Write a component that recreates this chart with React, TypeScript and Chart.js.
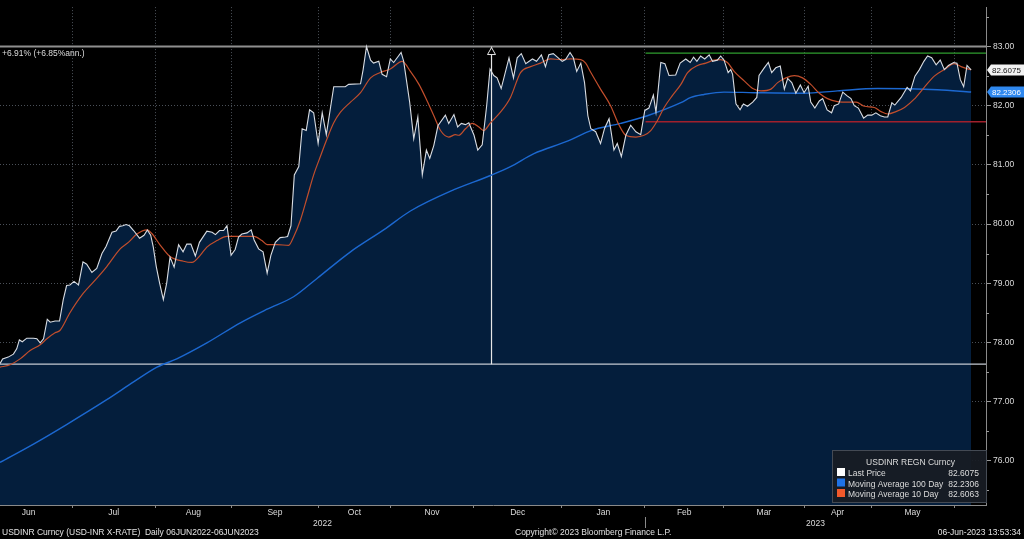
import { useEffect, useRef } from "react"
import { Chart, registerables } from "chart.js"

Chart.register(...registerables)

// x = trading day, 0 = 06 Jun 2022
const priceDays = [
  0, 0.7, 2.2, 3.6, 4.5, 5.2, 6.0, 7.2, 9.0, 9.9,
  10.8, 11.7, 12.7, 13.5, 14.8, 16.0, 17.0, 17.9, 18.8, 19.9,
  21.1, 22.3, 23.3, 24.7, 26.0, 27.4, 28.5, 30.1, 31.2, 32.1,
  33.0, 33.9, 34.8, 35.9, 37.5, 38.7, 39.6, 40.5, 41.2, 42.0,
  42.9, 43.9, 44.8, 45.7, 46.8, 48.0, 49.2, 50.2, 51.3, 52.5,
  53.6, 55.6, 57.0, 57.9, 59.0, 60.1, 61.0, 62.1, 63.2, 64.1,
  65.0, 66.4, 67.5, 68.3, 69.5, 70.7, 71.8, 72.8, 74.0, 75.3,
  76.7, 77.3, 78.2, 79.1, 80.3, 81.2, 82.3, 83.2, 84.3, 85.5,
  86.6, 87.7, 89.7, 91.5, 92.8, 93.7, 96.9, 97.6, 98.5, 99.6,
  100.4, 101.8, 102.7, 103.9, 104.9, 105.8, 107.8, 108.5, 110.1, 111.2,
  112.3, 113.5, 114.6, 115.5, 116.6, 117.7, 119.7, 120.6, 122.0, 123.0,
  124.0, 125.1, 126.0, 127.4, 128.4, 129.6, 130.8, 131.7, 132.7, 133.6,
  134.7, 136.8, 138.0, 139.0, 140.1, 141.3, 143.1, 144.2, 145.5, 146.6,
  147.5, 148.7, 149.8, 151.1, 152.0, 153.2, 154.1, 155.0, 156.1, 157.1,
  158.0, 158.8, 160.1, 161.4, 162.5, 163.7, 165.0, 165.9, 167.0, 168.2,
  169.5, 170.9, 172.2, 173.3, 174.4, 175.6, 176.3, 177.6, 178.7, 179.8,
  181.6, 182.8, 184.3, 185.5, 186.4, 187.3, 188.3, 189.4, 190.6, 191.5,
  192.8, 193.7, 194.6, 195.7, 196.4, 196.9, 197.8, 198.9, 199.8, 200.9,
  202.3, 203.4, 204.0, 205.4, 206.5, 207.4, 208.5, 209.7, 210.8, 211.7,
  212.8, 213.9, 215.1, 216.1, 217.2, 217.9, 219.0, 220.2, 221.1, 222.3,
  223.5, 224.2, 225.4, 226.5, 227.6, 228.7, 229.6, 230.7, 232.1, 233.2,
  234.3, 235.4, 236.6, 237.7, 238.6, 239.7, 240.5, 242.2, 243.8, 244.7,
  245.9, 247.1, 248.3, 249.3, 250.4, 251.6, 252.7, 253.8, 254.9, 256.3,
  257.2, 258.1, 259.0, 259.9, 261.0,
]
const priceValues = [
  77.64, 77.72, 77.75, 77.80, 77.89, 78.04, 78.01, 78.07, 78.07, 78.06,
  77.99, 78.06, 78.39, 78.34, 78.36, 78.36, 78.72, 78.96, 78.97, 79.03,
  78.97, 79.36, 79.32, 79.18, 79.25, 79.50, 79.62, 79.86, 79.88, 79.96,
  79.97, 79.99, 79.97, 79.89, 79.76, 79.81, 79.90, 79.81, 79.61, 79.28,
  79.00, 78.72, 79.00, 79.44, 79.27, 79.65, 79.53, 79.66, 79.66, 79.46,
  79.69, 79.88, 79.86, 79.82, 79.89, 79.89, 79.97, 79.47, 79.57, 79.78,
  79.83, 79.85, 79.90, 79.73, 79.58, 79.53, 79.17, 79.47, 79.69, 79.77,
  79.78, 79.79, 79.97, 80.83, 80.97, 81.61, 81.58, 81.93, 81.88, 81.36,
  81.88, 81.51, 82.32, 82.32, 82.32, 82.36, 82.37, 82.61, 83.00, 82.77,
  82.72, 82.75, 82.53, 82.49, 82.79, 82.73, 82.90, 82.75, 82.06, 81.44,
  81.81, 80.83, 81.25, 81.11, 81.33, 81.66, 81.84, 81.70, 81.85, 81.64,
  81.70, 81.68, 81.71, 81.50, 81.25, 81.34, 82.00, 82.62, 82.51, 82.47,
  82.29, 82.81, 82.47, 82.81, 82.88, 82.71, 82.79, 82.75, 82.86, 82.66,
  82.86, 82.88, 82.82, 82.75, 82.78, 82.90, 82.81, 82.58, 82.72, 82.39,
  81.83, 81.61, 81.56, 81.36, 81.62, 81.78, 81.25, 81.36, 81.14, 81.50,
  81.67, 81.56, 81.51, 81.92, 81.96, 82.18, 81.89, 82.73, 82.71, 82.51,
  82.52, 82.72, 82.79, 82.73, 82.82, 82.75, 82.84, 82.79, 82.86, 82.75,
  82.77, 82.84, 82.77, 82.56, 82.61, 82.53, 82.03, 81.93, 82.03, 81.99,
  82.06, 82.14, 82.51, 82.64, 82.73, 82.56, 82.64, 82.67, 82.28, 82.46,
  82.39, 82.21, 82.35, 82.22, 82.33, 82.06, 81.96, 82.08, 82.12, 81.93,
  81.88, 82.00, 82.03, 82.23, 82.17, 82.12, 82.00, 81.96, 81.79, 81.84,
  81.84, 81.88, 81.83, 81.81, 81.81, 82.05, 82.01, 82.14, 82.31, 82.25,
  82.50, 82.61, 82.75, 82.84, 82.81, 82.69, 82.77, 82.61, 82.68, 82.73,
  82.72, 82.44, 82.32, 82.68, 82.6075,
]

const ma10Days = [
  0, 2.7, 5.4, 8.1, 10.8, 12.6, 14.8, 16.1, 18.8, 22.4,
  26.0, 28.7, 32.3, 34.5, 36.8, 39.5, 40.8, 43.1, 45.7, 49.3,
  51.6, 53.8, 55.6, 58.3, 61.0, 64.6, 68.2, 70.4, 71.8, 74.5,
  77.6, 78.9, 80.7, 82.5, 84.3, 86.1, 87.9, 89.7, 91.5, 94.2,
  96.9, 99.6, 102.2, 104.9, 108.1, 110.3, 112.6, 114.8, 116.6, 118.4,
  120.6, 122.4, 123.3, 125.1, 126.9, 128.7, 130.0, 131.8, 134.5, 137.2,
  139.9, 142.6, 145.3, 148.0, 150.7, 153.4, 156.1, 157.4, 158.8, 161.4,
  164.1, 166.4, 168.2, 170.9, 173.1, 174.9, 176.7, 178.5, 180.7, 183.0,
  184.8, 187.5, 189.7, 191.9, 193.7, 195.5, 197.3, 200.0, 202.3, 204.5,
  207.2, 209.0, 211.2, 213.5, 215.7, 217.9, 220.2, 222.4, 225.1, 227.8,
  230.1, 232.3, 235.0, 236.8, 238.6, 240.8, 243.1, 245.7, 248.4, 251.1,
  253.8, 256.5, 258.3, 261.0,
]
const ma10Values = [
  77.58, 77.62, 77.72, 77.86, 77.96, 78.06, 78.16, 78.20, 78.50, 78.83,
  79.08, 79.28, 79.58, 79.69, 79.83, 79.90, 79.84, 79.64, 79.45, 79.37,
  79.35, 79.47, 79.61, 79.72, 79.79, 79.79, 79.79, 79.72, 79.65, 79.65,
  79.64, 79.78, 80.06, 80.44, 80.83, 81.14, 81.44, 81.71, 81.89, 82.06,
  82.22, 82.47, 82.56, 82.62, 82.75, 82.58, 82.36, 82.08, 81.83, 81.58,
  81.47, 81.51, 81.50, 81.61, 81.70, 81.64, 81.58, 81.71, 81.89, 82.14,
  82.56, 82.66, 82.72, 82.79, 82.78, 82.79, 82.78, 82.72, 82.56, 82.28,
  82.00, 81.67, 81.50, 81.47, 81.50, 81.58, 81.75, 81.97, 82.17, 82.36,
  82.56, 82.68, 82.72, 82.77, 82.78, 82.73, 82.58, 82.42, 82.29, 82.25,
  82.28, 82.39, 82.47, 82.51, 82.47, 82.36, 82.21, 82.12, 82.07, 82.06,
  82.06, 81.99, 81.97, 81.90, 81.86, 81.90, 81.97, 82.11, 82.31, 82.50,
  82.61, 82.71, 82.66, 82.6063,
]

const ma100Days = [
  0, 9.0, 17.9, 28.7, 35.9, 42.2, 47.5, 55.6, 64.6, 71.8,
  78.9, 85.2, 94.2, 103.1, 110.3, 122.0, 131.8, 137.2, 143.5, 152.5,
  158.8, 166.8, 174.0, 183.0, 185.7, 189.2, 194.6, 202.7, 216.1, 225.1,
  235.9, 252.0, 261.0,
]
const ma100Values = [
  75.97, 76.28, 76.61, 77.03, 77.33, 77.58, 77.72, 77.99, 78.33, 78.56,
  78.77, 79.08, 79.53, 79.90, 80.22, 80.58, 80.82, 80.97, 81.19, 81.40,
  81.58, 81.70, 81.83, 82.05, 82.14, 82.19, 82.23, 82.22, 82.21, 82.25,
  82.29, 82.27, 82.2306,
]

// axis
const dayMin = 0
const dayMax = 265
const firstMonthStart = -4
const monthStarts = [19.4, 41.7, 62.2, 85.6, 104.9, 127.3, 151.0, 173.3, 194.5, 216.1, 234.1, 256.4]
const monthLabels = ["Jun", "Jul", "Aug", "Sep", "Oct", "Nov", "Dec", "Jan", "Feb", "Mar", "Apr", "May"]
const yearLabels = ["2022", "2023"]
const yearBreakIndex = 7
const yTicks = [76, 77, 78, 79, 80, 81, 82, 83]
const yMin = 75.25
const yMax = 83.6667

// annotations
const rangeLow = 77.63
const rangeHigh = 83.0
const rangeText = "+6.91% (+6.85%ann.)"
const arrowDay = 132.1
const channelStart = 173.5
const channelTop = 82.89
const channelBottom = 81.73

const legendTitle = "USDINR REGN Curncy"
const legendNames = ["Last Price", "Moving Average 100 Day", "Moving Average 10 Day"]
const legendColors = ["#ffffff", "#1f72e6", "#f2592b"]

const footerLeft = "USDINR Curncy (USD-INR X-RATE)  Daily 06JUN2022-06JUN2023"
const footerCenter = "Copyright\u00a9 2023 Bloomberg Finance L.P."
const footerRight = "06-Jun-2023 13:53:34"

const FAMILY = '"Liberation Sans", Arial, sans-serif'
const FONT = `8.5px ${FAMILY}`
const TEXT = "#dcdcdc"

const toPoints = (xs: number[], ys: number[]) => xs.map((x, i) => ({ x, y: ys[i] }))

const hLine = (y: number, from: number, color: string, width: number) => ({
  data: [
    { x: from, y },
    { x: dayMax, y },
  ],
  borderColor: color,
  borderWidth: width,
  pointRadius: 0,
  fill: false,
  order: 5,
})

const decorations = {
  id: "decorations",
  beforeDraw(chart: any) {
    const { ctx, width, height } = chart
    ctx.save()
    ctx.fillStyle = "#000"
    ctx.fillRect(0, 0, width, height)
    ctx.restore()
  },
  afterDraw(chart: any) {
    const { ctx, chartArea } = chart
    const xs = chart.scales.x
    const ys = chart.scales.y
    ctx.save()
    ctx.font = FONT
    ctx.fillStyle = TEXT

    // month labels centred in their months
    const edges = [firstMonthStart, ...monthStarts]
    ctx.textAlign = "center"
    ctx.textBaseline = "alphabetic"
    monthLabels.forEach((m, i) => {
      const cx = (xs.getPixelForValue(edges[i]) + xs.getPixelForValue(edges[i + 1])) / 2
      ctx.fillText(m, cx, chartArea.bottom + 10)
    })
    const yearBreak = monthStarts[yearBreakIndex]
    const yearSpans = [
      [dayMin, yearBreak],
      [yearBreak, dayMax],
    ]
    yearLabels.forEach((yl, i) => {
      const cx = (xs.getPixelForValue(yearSpans[i][0]) + xs.getPixelForValue(yearSpans[i][1])) / 2
      ctx.fillText(yl, cx, chartArea.bottom + 21)
    })
    const bx = Math.round(xs.getPixelForValue(yearBreak)) + 0.5
    ctx.strokeStyle = "#8a8a8a"
    ctx.lineWidth = 1
    ctx.beginPath()
    ctx.moveTo(bx, chartArea.bottom + 12)
    ctx.lineTo(bx, chartArea.bottom + 23)
    ctx.stroke()

    // minor ticks on the price axis
    ctx.strokeStyle = "#9a9a9a"
    ;[...yTicks.map((v) => v - 0.5), yTicks[yTicks.length - 1] + 0.5].forEach((v) => {
      const py = Math.round(ys.getPixelForValue(v)) + 0.5
      ctx.beginPath()
      ctx.moveTo(chartArea.right, py)
      ctx.lineTo(chartArea.right + 3, py)
      ctx.stroke()
    })

    // arrow head of the range marker
    const ax = xs.getPixelForValue(arrowDay)
    const ay = ys.getPixelForValue(rangeHigh)
    ctx.beginPath()
    ctx.moveTo(ax, ay + 1)
    ctx.lineTo(ax - 4, ay + 8)
    ctx.lineTo(ax + 4, ay + 8)
    ctx.closePath()
    ctx.fillStyle = "#000"
    ctx.fill()
    ctx.strokeStyle = "#e6e6e6"
    ctx.stroke()

    // range text
    ctx.fillStyle = TEXT
    ctx.textAlign = "left"
    ctx.fillText(rangeText, 2, ay + 9)

    // last value tags
    const tag = (value: number, bg: string, fg: string) => {
      const py = Math.round(ys.getPixelForValue(value))
      const left = chartArea.right + 1
      const right = 1024
      const h = 11
      ctx.beginPath()
      ctx.moveTo(left, py)
      ctx.lineTo(left + 4, py - h / 2)
      ctx.lineTo(right, py - h / 2)
      ctx.lineTo(right, py + h / 2)
      ctx.lineTo(left + 4, py + h / 2)
      ctx.closePath()
      ctx.fillStyle = bg
      ctx.fill()
      ctx.fillStyle = fg
      ctx.textAlign = "left"
      ctx.textBaseline = "middle"
      ctx.font = `8px ${FAMILY}`
      ctx.fillText(value.toFixed(4), left + 5, py + 0.5)
      ctx.font = FONT
    }
    const lastPrice = priceValues[priceValues.length - 1]
    const lastMa100 = ma100Values[ma100Values.length - 1]
    const lastMa10 = ma10Values[ma10Values.length - 1]
    tag(lastPrice, "#f2f2f2", "#111")
    tag(lastMa100, "#2f88ef", "#fff")

    // legend
    const lx = 832
    const ly = 450
    const lw = 155
    const lh = 53
    ctx.fillStyle = "rgba(24, 28, 36, 0.93)"
    ctx.fillRect(lx, ly, lw, lh)
    ctx.strokeStyle = "rgba(80, 86, 96, 0.8)"
    ctx.strokeRect(lx + 0.5, ly + 0.5, lw - 1, lh - 1)
    ctx.textBaseline = "alphabetic"
    ctx.fillStyle = TEXT
    ctx.textAlign = "center"
    ctx.fillText(legendTitle, lx + lw / 2 + 1, ly + 15)
    const lastValues = [lastPrice, lastMa100, lastMa10]
    legendNames.forEach((name, i) => {
      const rowY = ly + 26 + i * 10.5
      ctx.fillStyle = legendColors[i]
      ctx.fillRect(lx + 5, rowY - 8, 8, 8)
      ctx.fillStyle = TEXT
      ctx.textAlign = "left"
      ctx.fillText(name, lx + 16, rowY)
      ctx.textAlign = "right"
      ctx.fillText(lastValues[i].toFixed(4), lx + lw - 8, rowY)
    })

    // footer
    const fy = 535
    ctx.fillStyle = "#e2e2e2"
    ctx.textAlign = "left"
    ctx.fillText(footerLeft, 2, fy)
    ctx.fillText(footerCenter, 515, fy)
    ctx.textAlign = "right"
    ctx.fillText(footerRight, 1021, fy)
    ctx.restore()
  },
}

export default function App() {
  const chartRef = useRef<HTMLCanvasElement>(null)
  const chartInstance = useRef<Chart | null>(null)

  useEffect(() => {
    if (!chartRef.current) return
    document.body.style.margin = "0"
    document.body.style.background = "#000"

    if (chartInstance.current) {
      chartInstance.current.destroy()
    }

    const ctx = chartRef.current.getContext("2d")
    if (!ctx) return

    chartInstance.current = new Chart(ctx, {
      type: "line",
      data: {
        datasets: [
          {
            label: "Last Price",
            data: toPoints(priceDays, priceValues),
            borderColor: "#d9dde3",
            borderWidth: 1.1,
            backgroundColor: "#041e3c",
            fill: "start",
            pointRadius: 0,
            tension: 0,
            order: 0,
          },
          {
            label: "Moving Average 100 Day",
            data: toPoints(ma100Days, ma100Values),
            borderColor: "#1c68d0",
            borderWidth: 1.4,
            pointRadius: 0,
            fill: false,
            cubicInterpolationMode: "monotone",
            order: 2,
          },
          {
            label: "Moving Average 10 Day",
            data: toPoints(ma10Days, ma10Values),
            borderColor: "#c24e2c",
            borderWidth: 1.2,
            pointRadius: 0,
            fill: false,
            cubicInterpolationMode: "monotone",
            order: 1,
          },
          hLine(rangeHigh, dayMin, "#8f8f8f", 2),
          hLine(rangeLow, dayMin, "#c4cad2", 1.3),
          hLine(channelTop, channelStart, "#2f9e2f", 1.2),
          hLine(channelBottom, channelStart, "#a0202c", 1.5),
          {
            data: [
              { x: arrowDay, y: rangeLow },
              { x: arrowDay, y: rangeHigh },
            ],
            borderColor: "#e6e6e6",
            borderWidth: 1.2,
            pointRadius: 0,
            fill: false,
            order: 4,
          },
        ] as any,
      },
      options: {
        responsive: false,
        animation: false,
        events: [],
        layout: { padding: 0 },
        plugins: {
          legend: { display: false },
          tooltip: { enabled: false },
          filler: { drawTime: "beforeDatasetsDraw" },
        },
        scales: {
          x: {
            type: "linear",
            min: dayMin,
            max: dayMax,
            z: 1,
            afterBuildTicks: (scale: any) => {
              scale.ticks = monthStarts.map((value) => ({ value }))
            },
            afterFit: (scale: any) => {
              scale.height = 34
            },
            ticks: {
              autoSkip: false,
              maxRotation: 0,
              callback: () => "",
            },
            grid: {
              color: "rgba(135, 145, 160, 0.55)",
              tickColor: "#8a8a8a",
              tickLength: 3,
            },
            border: { display: true, color: "#8a8a8a", dash: [1, 2] },
          },
          y: {
            type: "linear",
            position: "right",
            min: yMin,
            max: yMax,
            z: 1,
            afterBuildTicks: (scale: any) => {
              scale.ticks = yTicks.map((value) => ({ value }))
            },
            afterFit: (scale: any) => {
              scale.width = 38
            },
            ticks: {
              color: TEXT,
              font: { family: FAMILY, size: 8.5 },
              padding: 2,
              callback: (value: any) => Number(value).toFixed(2),
            },
            grid: {
              color: "rgba(135, 145, 160, 0.55)",
              tickColor: "#9a9a9a",
              tickLength: 5,
            },
            border: { display: true, color: "#8a8a8a", dash: [1, 2] },
          },
        },
      },
      plugins: [decorations],
    })

    return () => {
      if (chartInstance.current) {
        chartInstance.current.destroy()
        chartInstance.current = null
      }
    }
  }, [])

  return (
    <div style={{ width: 1024, height: 539, background: "#000" }}>
      <canvas ref={chartRef} width={1024} height={539} style={{ display: "block" }} />
    </div>
  )
}
